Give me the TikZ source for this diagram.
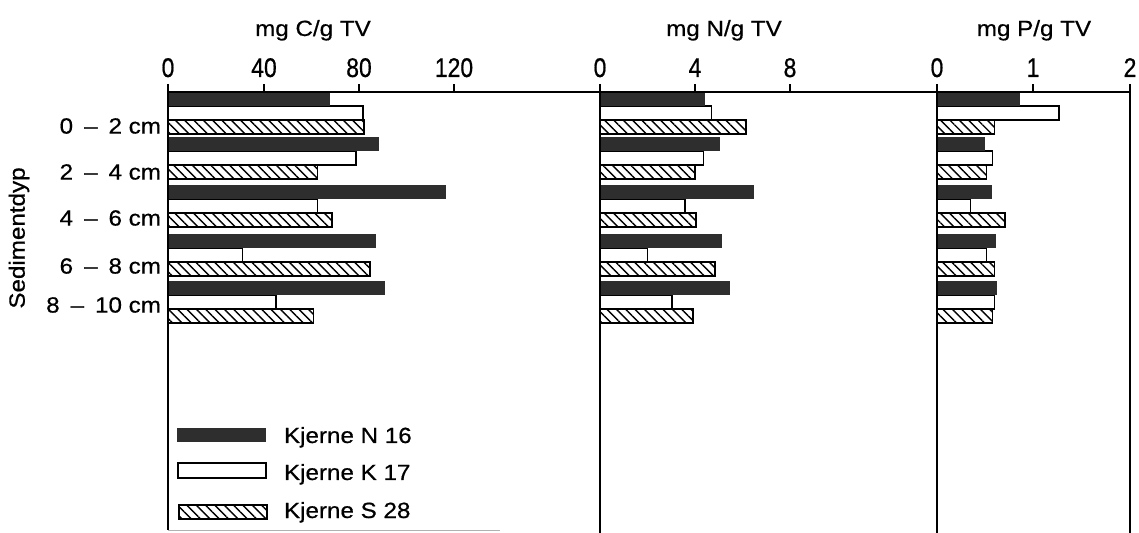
\documentclass[tikz,border=0pt]{standalone}
\usepackage{fontspec}
\setmainfont{Liberation Sans}[FakeStretch=1.1,FakeBold=0.6]
\newfontfamily\tickfont{Liberation Sans}[FakeStretch=0.85,FakeBold=0.6]
\usetikzlibrary{patterns.meta}
\tikzstyle{blk}=[fill=black!82]
\tikzstyle{wht}=[draw,fill=white,line width=0.8pt]
\tikzstyle{hat}=[draw,line width=0.8pt,pattern={Lines[angle=-45,distance=3.3pt,line width=0.7pt]}]
\tikzstyle{tck}=[font=\tickfont\fontsize{13.5}{14}\selectfont,anchor=base]
\tikzstyle{lbl}=[font=\fontsize{11}{13}\selectfont,inner sep=0pt]

\begin{document}
\begin{tikzpicture}[x=0.5pt,y=-0.5pt,line width=1pt]
\useasboundingbox (0,0) rectangle (1139,533);
% #1 axis x, #2 px per unit, #3 top of group, #4-#6 the three cores
\def\grp#1#2#3#4#5#6{
  \draw[wht] (#1,#3+14) rectangle ++(#5*#2,14);
  \fill[blk] (#1,#3) rectangle ++(#4*#2,14);
  \draw[hat] (#1,#3+28) rectangle ++(#6*#2,14);}
\def\tk#1#2#3{\draw (#2,92) -- (#2,84); \node[tck] (#1) at (#2,77) {#3};}
\def\dd{\enspace--\enspace}
% carbon
\grp{168}{2.375}{92}{68.2}{82.2}{82.6}
\grp{168}{2.375}{137}{89}{79.2}{62.9}
\grp{168}{2.375}{185}{117}{62.9}{69}
\grp{168}{2.375}{234}{87.6}{31.4}{85}
\grp{168}{2.375}{281}{91.2}{45.5}{61.2}
% nitrogen
\grp{600}{23.75}{92}{4.43}{4.7}{6.15}
\grp{600}{23.75}{137}{5.04}{4.35}{4.01}
\grp{600}{23.75}{185}{6.5}{3.59}{4.03}
\grp{600}{23.75}{234}{5.13}{2.0}{4.83}
\grp{600}{23.75}{281}{5.49}{3.02}{3.91}
% phosphorus
\grp{937}{95.5}{92}{0.87}{1.28}{0.60}
\grp{937}{95.5}{137}{0.50}{0.58}{0.52}
\grp{937}{95.5}{185}{0.58}{0.35}{0.71}
\grp{937}{95.5}{234}{0.62}{0.52}{0.60}
\grp{937}{95.5}{281}{0.63}{0.60}{0.58}
% axes
\draw (168,92) -- (1131,92);
\draw (168,84) -- (168,530); \draw (600,84) -- (600,533);
\draw (937,84) -- (937,533); \draw (1130,84) -- (1130,533);
\draw[black!30,line width=0.5pt] (168,530) -- (500,530);
\tk{c0}{168}{0} \tk{c40}{264}{40} \tk{c80}{359}{80} \tk{c120}{454}{120}
\tk{n0}{600}{0} \tk{n4}{695}{4} \tk{n8}{790}{8}
\tk{p0}{937}{0} \tk{p1}{1033}{1} \tk{p2}{1130}{2}
\node[lbl,anchor=base] (tc) at (313,36) {mg C/g TV};
\node[lbl,anchor=base] (tn) at (724,36) {mg N/g TV};
\node[lbl,anchor=base] (tp) at (1034,36) {mg P/g TV};
% depths
\node[lbl,anchor=east] (d1) at (162,126) {0\dd2 cm};
\node[lbl,anchor=east] (d2) at (162,172) {2\dd4 cm};
\node[lbl,anchor=east] (d3) at (162,218) {4\dd6 cm};
\node[lbl,anchor=east] (d4) at (162,266) {6\dd8 cm};
\node[lbl,anchor=east] (d5) at (162,305) {8\dd10 cm};
\node[lbl,rotate=90] (sd) at (19,238) {Sedimentdyp};
% legend
\fill[blk] (177,428) rectangle (266,442);
\draw[wht] (178,463) rectangle (266,478);
\draw[hat] (179,505) rectangle (267,519);
\node[lbl,anchor=base west] (k1) at (283,443) {Kjerne N 16};
\node[lbl,anchor=base west] (k2) at (283,480) {Kjerne K 17};
\node[lbl,anchor=base west] (k3) at (283,518) {Kjerne S 28};
\end{tikzpicture}
\end{document}
